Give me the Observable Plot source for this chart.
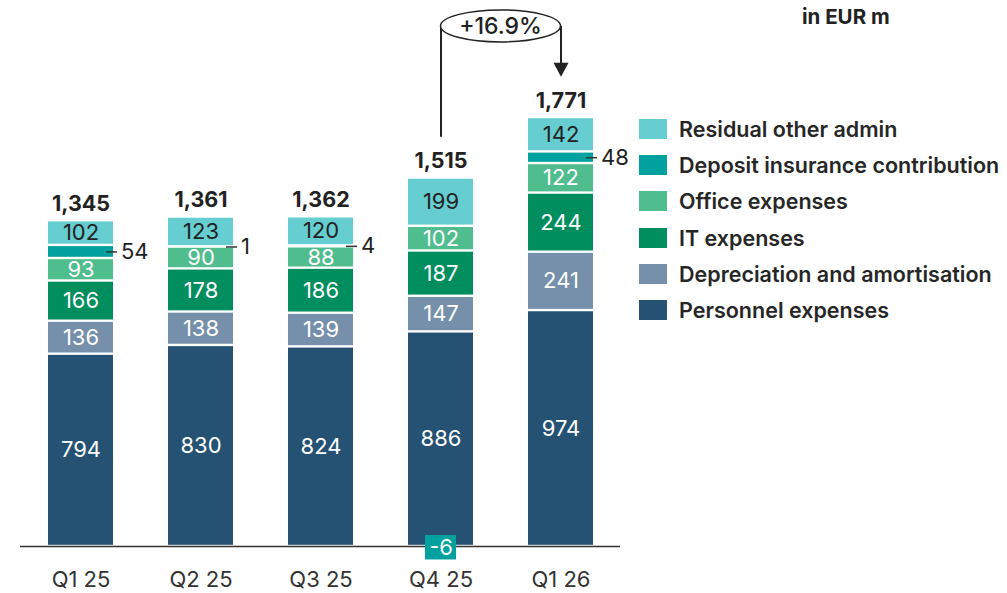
<!DOCTYPE html>
<html><head><meta charset="utf-8">
<script src="https://cdn.jsdelivr.net/npm/d3@7"></script>
<script src="https://cdn.jsdelivr.net/npm/@observablehq/plot@0.6"></script>
<style>
body{margin:0;background:#fff;font-family:Inter,"Noto Sans",sans-serif;}
#wrap{position:relative;width:1007px;height:593px;overflow:hidden;}
#unit{position:absolute;left:802px;top:4px;font-size:20.5px;font-weight:700;color:#222;}
#legend{position:absolute;left:639px;top:111px;}
.row{display:flex;align-items:center;height:36.2px;font-size:21.5px;font-weight:600;color:#262626;white-space:nowrap;}
.sw{width:28px;height:20px;margin-right:12px;flex:none;}
</style></head>
<body><div id="wrap"><div id="unit">in EUR m</div><div id="legend"></div></div>
<script>
const quarters = ["Q1 25","Q2 25","Q3 25","Q4 25","Q1 26"];
const seriesNames = ["Personnel expenses","Depreciation and amortisation","IT expenses","Office expenses","Deposit insurance contribution","Residual other admin"];
const seriesColors = ["#255272","#7690ab","#008e5f","#4fbd8e","#00a19e","#66cdd0"];
const personnel = [794,830,824,886,974];
const depreciation = [136,138,139,147,241];
const itExpenses = [166,178,186,187,244];
const office = [93,90,88,102,122];
const deposit = [54,1,4,-6,48];
const residual = [102,123,120,199,142];
const totalLabels = ["1,345","1,361","1,362","1,515","1,771"];
const growthFrom = "Q4 25", growthTo = "Q1 26", growthLabel = "+16.9%";

const seriesValues = [personnel, depreciation, itExpenses, office, deposit, residual];
const DEP = seriesNames[4], RES = seriesNames[5];
const data = quarters.flatMap((q,i)=>seriesNames.map((s,k)=>({quarter:q, series:s, value:seriesValues[k][i]})));
const tops = quarters.map((q,i)=>seriesValues.reduce((a,v)=>a+Math.max(0,v[i]),0));
const depRows = quarters.map((q,i)=>{
  const base = personnel[i]+depreciation[i]+itExpenses[i]+office[i];
  return {quarter:q, value:deposit[i], mid: deposit[i] >= 0 ? base + deposit[i]/2 : deposit[i]/2};
});
const totalsRows = quarters.map((q,i)=>({quarter:q, top:tops[i], label:totalLabels[i]}));
const iFrom = quarters.indexOf(growthFrom), iTo = quarters.indexOf(growthTo);
const gap = 168, level = 2147;
const downTri = {draw(ctx){ctx.moveTo(-7.5,-14);ctx.lineTo(7.5,-14);ctx.lineTo(0,0);ctx.closePath();}};

const plot = Plot.plot({
  width:1007, height:593,
  marginLeft:20, marginRight:387, marginTop:0, marginBottom:47,
  x:{domain:quarters, paddingInner:55/120, paddingOuter:55/240, align:0.5, label:null, tickSize:0, tickPadding:25},
  y:{domain:[0,2254], axis:null},
  color:{domain:seriesNames, range:seriesColors},
  style:{fontFamily:"Inter, 'Noto Sans', sans-serif", fontSize:"22px", color:"#333", background:"transparent", overflow:"visible"},
  marks:[
    Plot.barY(data, {x:"quarter", y:"value", fill:"series", insetTop:1.2, insetBottom:1.2}),
    Plot.ruleY([0], {stroke:"#333", strokeWidth:1.5}),
    Plot.barY(depRows.filter(d=>d.value<0), {x:"quarter", y1:0, y2:"value", fill:seriesColors[4], insetLeft:17, insetRight:17, insetTop:-11, insetBottom:-12}),
    Plot.text(depRows.filter(d=>d.value<0), {x:"quarter", y:"mid", text:d=>String(d.value), fill:"white", fontSize:22, dy:1}),
    Plot.text(data, Plot.stackY({x:"quarter", y:"value", text:d=>(d.series===DEP||d.series===RES)?"":String(d.value), fill:"white", fontSize:22})),
    Plot.text(data, Plot.stackY({x:"quarter", y:"value", text:d=>d.series===RES?String(d.value):"", fill:"#222", fontSize:22})),
    Plot.tickY(depRows.filter(d=>d.value>0), {x:"quarter", y:"mid", stroke:"#333", strokeWidth:1.5, insetLeft:58, insetRight:-4}),
    Plot.text(depRows.filter(d=>d.value>0), {x:"quarter", y:"mid", text:d=>String(d.value), textAnchor:"start", dx:40, fill:"#222", fontSize:22}),
    Plot.text(totalsRows, {x:"quarter", y:"top", text:"label", lineAnchor:"bottom", dy:-10, fontWeight:700, fontSize:21.5, fill:"#222"}),
    Plot.ruleX([growthFrom], {x:d=>d, y1:tops[iFrom]+gap, y2:level, stroke:"#222", strokeWidth:2}),
    Plot.ruleX([growthTo], {x:d=>d, y1:tops[iTo]+gap+30, y2:level, stroke:"#222", strokeWidth:2}),
    Plot.dot([growthTo], {x:d=>d, y:tops[iTo]+gap, symbol:downTri, fill:"#222", stroke:"none", r:7})
  ]
});
document.getElementById("wrap").prepend(plot);

// ellipse label for growth
const xs = plot.scale("x"), ys = plot.scale("y");
const bw = xs.bandwidth || 0;
const xa = xs.apply(growthFrom) + bw/2, xb = xs.apply(growthTo) + bw/2;
const cy = ys.apply(level);
const svg = d3.select(plot);
svg.append("ellipse").attr("cx",(xa+xb)/2).attr("cy",cy).attr("rx",(xb-xa)/2).attr("ry",16)
  .attr("fill","white").attr("stroke","#222").attr("stroke-width",1.5);
svg.append("text").attr("x",(xa+xb)/2).attr("y",cy).attr("dy","0.36em").attr("text-anchor","middle")
  .attr("font-size",23).attr("font-weight",500).attr("fill","#222").text(growthLabel);

// legend (top to bottom)
const legend = document.getElementById("legend");
for (let k = seriesNames.length-1; k >= 0; k--) {
  const row = document.createElement("div"); row.className="row";
  const sw = document.createElement("div"); sw.className="sw"; sw.style.background=seriesColors[k];
  const t = document.createElement("span"); t.textContent = seriesNames[k];
  row.append(sw,t); legend.append(row);
}
</script></body></html>
